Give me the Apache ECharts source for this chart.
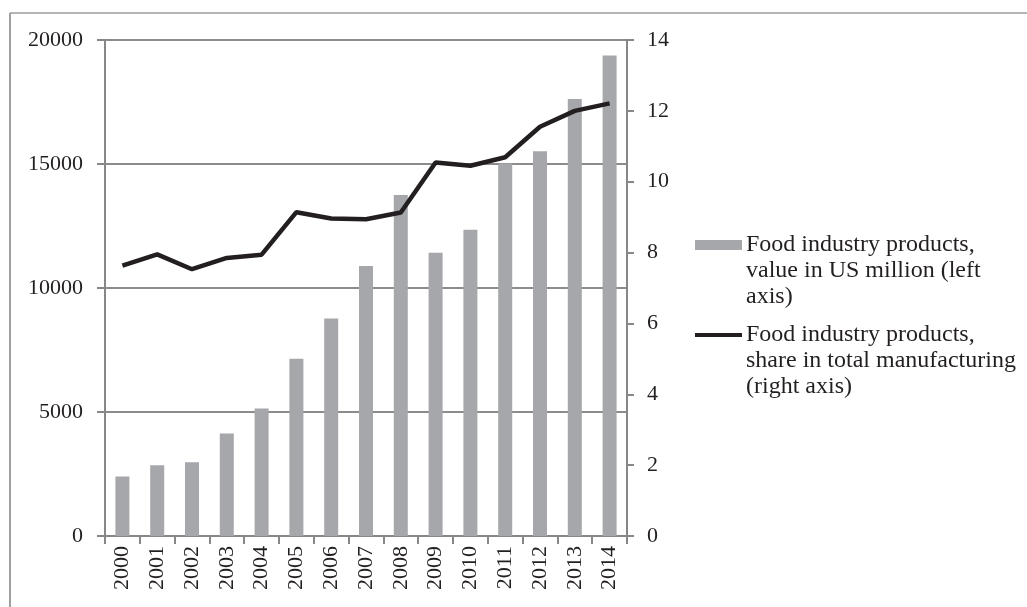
<!DOCTYPE html>
<html>
<head>
<meta charset="utf-8">
<script src="https://cdn.jsdelivr.net/npm/echarts@6/dist/echarts.min.js"></script>
<style>html,body{margin:0;padding:0;background:#fff;}#c{width:1027px;height:607px;}</style>
</head>
<body>
<div id="c"></div>
<script>
const years = ['2000','2001','2002','2003','2004','2005','2006','2007','2008','2009','2010','2011','2012','2013','2014'];
const valueUSD = [2400, 2850, 2970, 4130, 5140, 7150, 8770, 10890, 13750, 11420, 12350, 15020, 15510, 17620, 19380];
const shareManuf = [7.63, 7.95, 7.53, 7.85, 7.94, 9.14, 8.96, 8.94, 9.13, 10.54, 10.45, 10.69, 11.55, 12.0, 12.21];
const barName = 'Food industry products, value in US million (left axis)';
const lineName = 'Food industry products, share in total manufacturing (right axis)';
const barLegendText = 'Food industry products,\nvalue in US million (left\naxis)';
const lineLegendText = 'Food industry products,\nshare in total manufacturing\n(right axis)';

const FONT = 'Liberation Serif';
const axisGray = '#878787';
const chart = echarts.init(document.getElementById('c'));
chart.setOption({
  backgroundColor: '#fff',
  animation: false,
  textStyle: { fontFamily: FONT, color: '#231f20' },
  grid: { left: 105, right: 400, top: 40, bottom: 71 },
  legend: [
    {
      left: 690, top: 173, orient: 'vertical',
      itemWidth: 47, itemHeight: 10, itemGap: 4,
      data: [{ name: barName, icon: 'rect' }],
      formatter: () => '\n\n' + barLegendText,
      textStyle: { fontFamily: FONT, fontSize: 24, lineHeight: 26, color: '#231f20', padding: [4,0,0,-1] }
    },
    {
      left: 690, top: 263, orient: 'vertical',
      itemWidth: 47, itemHeight: 4, itemGap: 4,
      data: [{ name: lineName, icon: 'rect' }],
      formatter: () => '\n\n' + lineLegendText,
      textStyle: { fontFamily: FONT, fontSize: 24, lineHeight: 26, color: '#231f20', padding: [4,0,0,-1] }
    }
  ],
  xAxis: {
    type: 'category', data: years,
    axisLine: { lineStyle: { color: axisGray, width: 2 } },
    axisTick: { show: true, length: 8, lineStyle: { color: axisGray, width: 2 } },
    axisLabel: { rotate: 90, margin: 10, fontFamily: FONT, fontSize: 22, color: '#231f20' }
  },
  yAxis: [
    {
      type: 'value', min: 0, max: 20000, interval: 5000, position: 'left',
      axisLine: { show: true, lineStyle: { color: axisGray, width: 2 } },
      axisTick: { show: true, length: 8, lineStyle: { color: axisGray, width: 2 } },
      axisLabel: { margin: 22, fontFamily: FONT, fontSize: 22, color: '#231f20', formatter: v => String(v) },
      splitLine: { show: true, lineStyle: { color: '#8c8c8c', width: 2 } }
    },
    {
      type: 'value', min: 0, max: 14, interval: 2, position: 'right',
      axisLine: { show: true, lineStyle: { color: axisGray, width: 2 } },
      axisTick: { show: true, length: 7, lineStyle: { color: axisGray, width: 2 } },
      axisLabel: { margin: 20, fontFamily: FONT, fontSize: 22, color: '#231f20' },
      splitLine: { show: false }
    }
  ],
  series: [
    {
      name: barName, type: 'bar', yAxisIndex: 0, data: valueUSD,
      barWidth: 14, itemStyle: { color: '#a6a7ab' }
    },
    {
      name: lineName, type: 'line', yAxisIndex: 1, data: shareManuf,
      symbol: 'none', lineStyle: { color: '#231f20', width: 4.5 }, itemStyle: { color: '#231f20' }
    }
  ],
  graphic: [
    { type: 'line', shape: { x1: 10, y1: 13, x2: 1027, y2: 13 }, style: { stroke: '#b5b5b5', lineWidth: 2 } },
    { type: 'line', shape: { x1: 10, y1: 13, x2: 10, y2: 607 }, style: { stroke: '#a0a0a0', lineWidth: 2 } }
  ]
});
</script>
</body>
</html>
